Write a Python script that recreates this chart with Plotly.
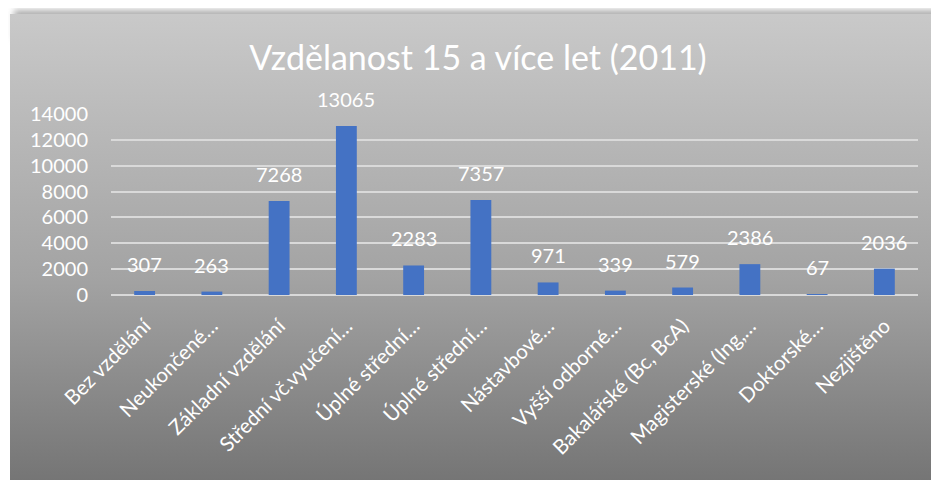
import base64
import plotly.graph_objects as go

categories = ["Bez vzdělání", "Neukončené…", "Základní vzdělání", "Střední vč.vyučení…",
              "Úplné střední…", "Úplné střední…", "Nástavbové…", "Vyšší odborné…",
              "Bakalářské (Bc, BcA)", "Magisterské (Ing,…", "Doktorské…", "Nezjištěno"]
values = [307, 263, 7268, 13065, 2283, 7357, 971, 339, 579, 2386, 67, 2036]
y_ticks = [0, 2000, 4000, 6000, 8000, 10000, 12000, 14000]
y_tick_labels = ["0", "2000", "4000", "6000", "8000", "10000", "12000", "14000"]
title_text = "Vzdělanost 15 a více let (2011)"

W, H = 939, 480
OFF = 8  # page body margin
ML, MT = 111 - OFF, 114 - OFF
PW, PH = 807, 181
MR, MB = W - ML - PW, H - MT - PH

# background picture (gradient panel with a soft shadow on top), in figure pixels
gx, gy = 10 - OFF, 14 - OFF
svg = f'''<svg xmlns="http://www.w3.org/2000/svg" width="{W}" height="{H}" viewBox="0 0 {W} {H}">
<defs>
<linearGradient id="g" x1="0" y1="0" x2="0" y2="1">
<stop offset="0" stop-color="#c9c9c9"/>
<stop offset="0.55" stop-color="#a3a3a3"/>
<stop offset="1" stop-color="#727272"/>
</linearGradient>
<filter id="b" x="-5%" y="-50%" width="110%" height="200%"><feGaussianBlur stdDeviation="3"/></filter>
</defs>
<rect x="0" y="0" width="{W}" height="{H}" fill="#ffffff"/>
<rect x="{gx + 4}" y="{gy - 4}" width="{W}" height="30" fill="#9a9a9a" filter="url(#b)" opacity="0.8"/>
<rect x="{gx}" y="{gy}" width="{W}" height="{H}" fill="url(#g)"/>
</svg>'''
src = "data:image/svg+xml;base64," + base64.b64encode(svg.encode("utf-8")).decode("ascii")

x_idx = list(range(len(categories)))

fig = go.Figure()
fig.add_trace(go.Bar(x=x_idx, y=values, marker=dict(color="#4472C4", line=dict(width=0)),
                     hoverinfo="y", showlegend=False))

annotations = []
for xi, v in zip(x_idx, values):
    annotations.append(dict(x=xi, y=v, xref="x", yref="y", text=str(v), showarrow=False,
                            yanchor="middle", yshift=27,
                            font=dict(family="Lato, sans-serif", size=20, color="#ffffff")))

fig.update_layout(
    width=W, height=H,
    margin=dict(l=ML, r=MR, t=MT, b=MB, autoexpand=False),
    paper_bgcolor="#ffffff",
    plot_bgcolor="rgba(0,0,0,0)",
    bargap=0.69,
    title=dict(text=title_text, x=(478 - OFF) / W, xref="container", xanchor="center",
               y=1 - (58 - OFF) / H, yref="container", yanchor="middle",
               font=dict(family="Lato, sans-serif", size=34, color="#ffffff")),
    images=[dict(source=src, xref="paper", yref="paper",
                 x=-ML / PW, y=1 + MT / PH, sizex=W / PW, sizey=H / PH,
                 xanchor="left", yanchor="top", sizing="stretch", layer="below")],
    annotations=annotations,
    xaxis=dict(tickmode="array", tickvals=x_idx, ticktext=categories, tickangle=-45,
               range=[-0.5, len(categories) - 0.5], showgrid=False, showline=False,
               zeroline=False, ticks="", ticklabelstandoff=14, automargin=False,
               tickfont=dict(family="Lato, sans-serif", size=20.5, color="#ffffff")),
    yaxis=dict(tickmode="array", tickvals=y_ticks, ticktext=y_tick_labels, range=[0, 14000],
               showgrid=True, gridcolor="#d9d9d9", gridwidth=1.5,
               zeroline=True, zerolinecolor="#d9d9d9", zerolinewidth=1.5,
               showline=False, ticks="", ticklabelstandoff=22, automargin=False,
               tickfont=dict(family="Lato, sans-serif", size=20, color="#ffffff")),
)

fig.write_html("out.html")
